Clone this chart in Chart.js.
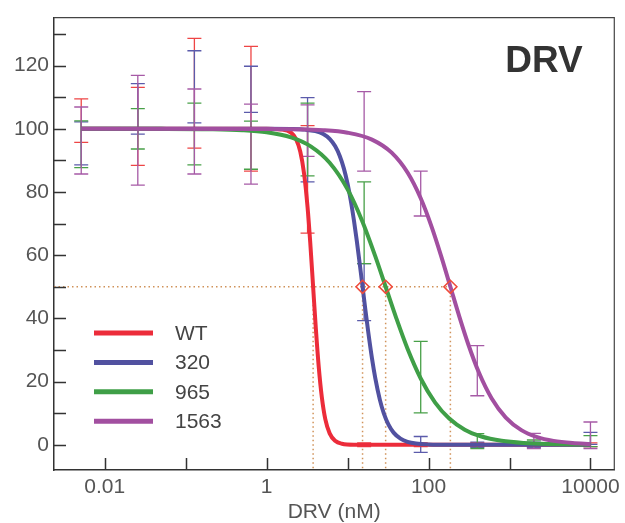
<!DOCTYPE html>
<html>
<head>
<meta charset="utf-8">
<script src="https://cdn.jsdelivr.net/npm/chart.js@4.4.1/dist/chart.umd.min.js"></script>
<style>
  body { margin: 0; background: #fff; }
  #wrap { width: 625px; height: 523px; }
</style>
</head>
<body>
<div id="wrap"><canvas id="drvChart" width="625" height="523"></canvas></div>
<script>
'use strict';

// doses (nM), 5-fold dilution series
var doses = [0.00512, 0.0256, 0.128, 0.64, 3.2, 16, 80, 400, 2000, 10000];

var seriesNames = ['WT', '320', '965', '1563'];
var lineColors = ['#ec2c3a', '#5151a0', '#3f9f47', '#a24fa0'];
var barColors = ['#ee4545', '#5b5bab', '#48a048', '#a65aa6'];

// error bars (% of control), low / high per dose
var wtLow = [95.7, 88.4, 93.9, 86.6, 67.0, -0.6, -0.6, -0.6, -0.6, -0.6];
var wtHigh = [109.5, 113.1, 128.6, 126.1, 101.0, 0.6, 0.6, 0.6, 0.6, 0.6];
var m320Low = [88.6, 98.3, 101.9, 105.2, 83.2, 39.3, -2.4, -0.8, -0.8, 0.1];
var m320High = [102.2, 114.3, 124.7, 119.8, 109.9, 57.3, 2.6, 0.8, 0.8, 3.9];
var m965Low = [87.7, 93.6, 88.6, 87.2, 85.1, 57.3, 10.1, -1.2, -0.5, -0.6];
var m965High = [102.5, 106.4, 108.1, 102.4, 108.1, 83.2, 32.7, 3.5, 1.5, 2.9];
var m1563Low = [85.7, 82.2, 85.7, 82.5, 91.3, 86.6, 72.4, 15.5, -1.2, -1.2];
var m1563High = [106.9, 116.9, 112.6, 107.8, 107.6, 111.8, 86.6, 31.4, 3.6, 7.2];

// fitted curves
var wtCurveX = [0.00512, 1, 1.5, 2, 2.3, 2.6, 2.9, 3.2, 3.45, 3.75, 4.05, 4.4, 4.8, 5.3, 6, 7, 8.5, 12, 10000];
var wtCurveY = [100, 100, 99.8, 98.8, 96.8, 92.8, 85.8, 75.2, 64.2, 50, 36.8, 24.6, 15.1, 8.1, 3.6, 1.25, 0.32, 0.03, 0];
var m320CurveX = [0.00512, 1, 2, 3, 4, 5, 6, 7, 8, 9, 10, 11, 12, 13, 14, 15.3, 16.5, 18, 20, 22, 25, 28, 32, 37, 45, 55, 70, 100, 200, 10000];
var m320CurveY = [100, 100, 99.94, 99.74, 99.26, 98.34, 96.82, 94.55, 91.42, 87.4, 82.52, 76.92, 70.82, 64.45, 58.03, 50, 43.16, 35.59, 27.33, 20.99, 14.28, 9.92, 6.34, 3.83, 1.91, 0.93, 0.39, 0.11, 0.01, 0];
var m965CurveX = [0.00512, 0.05, 0.2, 0.5, 1, 2, 3.5, 6, 10, 15, 22, 29.5, 40, 55, 80, 120, 180, 280, 450, 800, 1500, 3000, 10000];
var m965CurveY = [100, 99.98, 99.87, 99.56, 98.9, 97.29, 94.46, 89.26, 80.83, 71.08, 59.63, 50, 40.02, 30.39, 20.97, 13.4, 8.28, 4.77, 2.6, 1.23, 0.54, 0.21, 0.04];
var m1563CurveX = [0.00512, 1, 5, 10, 20, 35, 55, 80, 110, 145, 186, 240, 310, 420, 600, 900, 1400, 2200, 3500, 6000, 10000];
var m1563CurveY = [100, 99.96, 99.56, 98.77, 96.59, 92.45, 86.15, 78, 68.73, 59.23, 50, 40.56, 31.73, 22.76, 14.72, 8.59, 4.62, 2.4, 1.21, 0.54, 0.25];

var ic50 = [3.75, 15.3, 29.5, 186];
var halfLevel = 50;

var xTicks = [0.01, 0.1, 1, 10, 100, 1000, 10000];
var xTickLabels = ['0.01', '', '1', '', '100', '', '10000'];
var yTicks = [0, 10, 20, 30, 40, 50, 60, 70, 80, 90, 100, 110, 120, 130];

var xMin = 0.00236, xMax = 19700, yMin = -8, yMax = 135.2;

var lows = [wtLow, m320Low, m965Low, m1563Low];
var highs = [wtHigh, m320High, m965High, m1563High];

function pts(xs, ys) {
  return xs.map(function(x, i) { return { x: x, y: ys[i] }; });
}

var curves = [pts(wtCurveX, wtCurveY), pts(m320CurveX, m320CurveY),
  pts(m965CurveX, m965CurveY), pts(m1563CurveX, m1563CurveY)];

var dotColor = 'rgba(206,140,80,0.95)';
var datasets = [];

curves.forEach(function(c, i) {
  datasets.push({
    label: seriesNames[i], data: c, isCurve: true,
    borderColor: lineColors[i], borderWidth: 4, pointRadius: 0,
    cubicInterpolationMode: 'monotone', fill: false, order: 4 - i
  });
});

// 50% guide lines
datasets.push({
  data: [{ x: xMin, y: halfLevel }, { x: ic50[3], y: halfLevel }],
  borderColor: dotColor, borderWidth: 1.5, borderDash: [1.5, 3],
  pointRadius: 0, order: 6
});
ic50.forEach(function(v) {
  datasets.push({
    data: [{ x: v, y: halfLevel }, { x: v, y: yMin }],
    borderColor: dotColor, borderWidth: 1.5, borderDash: [1.5, 3],
    pointRadius: 0, order: 6
  });
});

// IC50 markers
datasets.push({
  data: ic50.slice(1).map(function(v) { return { x: v, y: halfLevel }; }),
  showLine: false, pointStyle: 'rectRot', pointRadius: 6.5,
  pointBorderColor: '#ef4b3b', pointBackgroundColor: 'rgba(0,0,0,0)',
  pointBorderWidth: 1.6, order: 0
});

var errorBars = {
  id: 'errorBars',
  beforeDatasetsDraw: function(chart) {
    var ctx = chart.ctx, xs = chart.scales.x, ys = chart.scales.y;
    ctx.save();
    ctx.lineWidth = 1.3;
    for (var s = 0; s < lows.length; s++) {
      ctx.strokeStyle = barColors[s];
      for (var i = 0; i < doses.length; i++) {
        var px = xs.getPixelForValue(doses[i]);
        var y1 = ys.getPixelForValue(lows[s][i]);
        var y2 = ys.getPixelForValue(highs[s][i]);
        ctx.beginPath();
        ctx.moveTo(px, y1); ctx.lineTo(px, y2);
        ctx.moveTo(px - 7, y1); ctx.lineTo(px + 7, y1);
        ctx.moveTo(px - 7, y2); ctx.lineTo(px + 7, y2);
        ctx.stroke();
      }
    }
    ctx.restore();
  }
};

var frameTicks = {
  id: 'frameTicks',
  afterDraw: function(chart) {
    var ctx = chart.ctx, a = chart.chartArea;
    var xs = chart.scales.x, ys = chart.scales.y;
    ctx.save();
    ctx.strokeStyle = '#444';
    ctx.lineWidth = 1.2;
    ctx.beginPath();
    ctx.moveTo(a.left, a.top); ctx.lineTo(a.right, a.top); ctx.lineTo(a.right, a.bottom);
    ctx.stroke();
    ctx.strokeStyle = '#333';
    ctx.lineWidth = 1.5;
    ctx.beginPath();
    xTicks.forEach(function(v) {
      var px = Math.round(xs.getPixelForValue(v)) + 0.5;
      ctx.moveTo(px, a.bottom); ctx.lineTo(px, a.bottom - 12);
    });
    yTicks.forEach(function(v) {
      var py = Math.round(ys.getPixelForValue(v)) + 0.5;
      ctx.moveTo(a.left, py); ctx.lineTo(a.left + 12, py);
    });
    ctx.stroke();
    ctx.restore();
  }
};

var legendBox = {
  id: 'legendBox',
  afterDraw: function(chart) {
    var ctx = chart.ctx, a = chart.chartArea;
    var items = chart.data.datasets.filter(function(d) { return d.isCurve; });
    ctx.save();
    ctx.font = '21px "Liberation Sans", Arial, sans-serif';
    ctx.textBaseline = 'middle';
    ctx.fillStyle = '#444';
    items.forEach(function(d, i) {
      var y = 333 + i * 29.4;
      ctx.strokeStyle = d.borderColor;
      ctx.lineWidth = 5;
      ctx.beginPath();
      ctx.moveTo(a.left + 40, y); ctx.lineTo(a.left + 99, y);
      ctx.stroke();
      ctx.fillText(d.label, a.left + 121, y + 1);
    });
    // drug label
    ctx.font = 'bold 37px "Liberation Sans", Arial, sans-serif';
    ctx.fillStyle = '#333';
    ctx.textAlign = 'center';
    ctx.fillText('DRV', 544, 62);
    ctx.restore();
  }
};

var tickFont = { family: '"Liberation Sans", Arial, sans-serif', size: 21 };

new Chart(document.getElementById('drvChart'), {
  type: 'line',
  data: { datasets: datasets },
  options: {
    responsive: false,
    animation: false,
    layout: { padding: { top: 10, right: 8, left: 0, bottom: 0 } },
    plugins: { legend: { display: false }, tooltip: { enabled: false } },
    scales: {
      x: {
        type: 'logarithmic', min: xMin, max: xMax,
        afterBuildTicks: function(s) { s.ticks = xTicks.map(function(v) { return { value: v }; }); },
        afterFit: function(s) { s.height = 53; },
        grid: { drawOnChartArea: false, drawTicks: false },
        border: { display: true, color: '#333', width: 1.5 },
        ticks: {
          autoSkip: false, maxRotation: 0, padding: 5, color: '#555', font: tickFont,
          callback: function(v, i) { return xTickLabels[i]; }
        },
        title: {
          display: true, text: 'DRV (nM)', color: '#555',
          font: { family: tickFont.family, size: 21, lineHeight: 1 },
          padding: { top: 0, bottom: 0 }
        }
      },
      y: {
        min: yMin, max: yMax,
        afterBuildTicks: function(s) { s.ticks = yTicks.map(function(v) { return { value: v }; }); },
        afterFit: function(s) { s.width = 54; },
        grid: { drawOnChartArea: false, drawTicks: false },
        border: { display: true, color: '#333', width: 1.5 },
        ticks: {
          padding: 5, color: '#555', font: tickFont,
          callback: function(v) { return v % 20 === 0 ? v : ''; }
        }
      }
    }
  },
  plugins: [errorBars, frameTicks, legendBox]
});
</script>
</body>
</html>
